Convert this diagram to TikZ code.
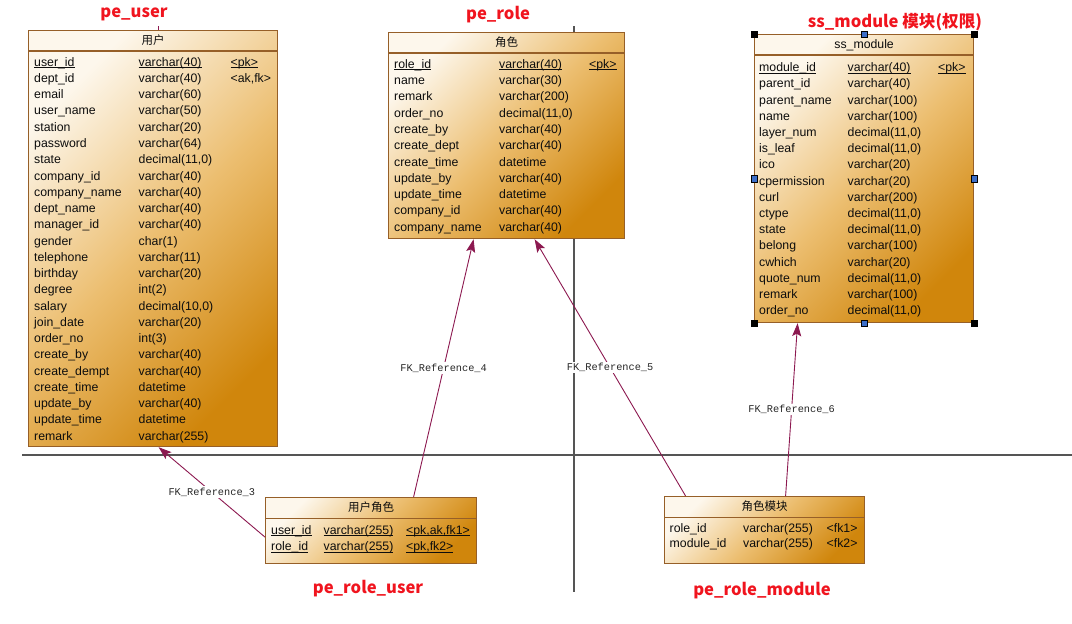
\documentclass[tikz,border=0pt]{standalone}
\usepackage{fontspec}
\setmainfont{Liberation Sans}
\newfontfamily\cjkfont{Noto Sans CJK SC}
\newfontfamily\fkmono{Liberation Mono}
\usetikzlibrary{arrows.meta,calc}
\definecolor{tblborder}{RGB}{150,95,40}
\definecolor{tbllight}{RGB}{253,247,236}
\definecolor{tblmid}{RGB}{236,190,112}
\definecolor{tbldark}{RGB}{208,134,12}
\definecolor{fkcol}{RGB}{140,25,80}
\definecolor{gridgray}{RGB}{85,85,85}
\definecolor{titlered}{RGB}{240,20,30}
\definecolor{handleblue}{RGB}{60,110,200}
\newcommand\pkul[1]{\setbox0\hbox{#1}\rlap{\rule[-1.9pt]{\wd0}{0.9pt}}\box0}
\begin{document}
\begin{tikzpicture}[x=1pt,y=-1pt,
  tbl/.style={draw=tblborder, line width=1.2pt, top color=tbllight, bottom color=tbldark, middle color=tblmid, shading angle=45, inner sep=0pt, anchor=north west},
  sepline/.style={draw=tblborder, line width=1.2pt},
  cell/.style={font=\fontsize{12.3}{14}\selectfont, text=black!95, anchor=west, inner sep=0pt, text height=9pt, text depth=2.6pt},
  hdr/.style={font=\fontsize{12.3}{14}\selectfont, text=black!95, inner sep=0pt},
  cjkhdr/.style={font=\cjkfont\fontsize{11.5}{13}\selectfont, text=black!95, inner sep=0pt},
  title/.style={font=\cjkfont\bfseries\fontsize{16.6}{18}\selectfont, text=titlered, anchor=base, inner sep=0pt},
  fk/.style={draw=fkcol, line width=0.9pt, -{Stealth[length=13pt,width=9pt,inset=2.5pt]}},
  fklabel/.style={font=\fkmono\fontsize{10.3}{12}\selectfont, fill=white, inner sep=1.5pt, text=black!85},
  gridline/.style={draw=gridgray, line width=1.2pt},
  handle/.style={draw=black, fill=black, minimum size=6.5pt, inner sep=0pt},
  midhandle/.style={draw=black, fill=handleblue, minimum size=6.5pt, inner sep=0pt}
]
\useasboundingbox (0,0) rectangle (1072,624);

% background guide lines
\coordinate (hl1) at (22,455);
\coordinate (hl2) at (1072,455);
\coordinate (vl1) at (574,26);
\coordinate (vl2) at (574,592);
\draw[gridline] (hl1) -- (hl2);
\draw[gridline] (vl1) -- (vl2);

% ---------------- pe_user ----------------
\node[tbl, minimum width=249pt, minimum height=416pt] (user) at (28,30) {};
\draw[sepline] ($(user.north west)+(0,21)$) -- ($(user.north east)+(0,21)$);
\node[cjkhdr] (user-h) at ($(user.north)+(0,10.5)$) {用户};
\node[title] (user-t) at (134,17) {pe\_user};
\node[cell] (u-n-1) at (34,63) {\pkul{user\_id}};
\node[cell] (u-t-1) at (138.5,63) {\pkul{varchar(40)}};
\node[cell] (u-k-1) at (230.5,63) {\pkul{<pk>}};
\node[cell] (u-k-2) at (230.5,79.26) {<ak,fk>};
\foreach \n/\t [count=\i from 2] in {dept\_id/varchar(40), email/varchar(60), user\_name/varchar(50), station/varchar(20), password/varchar(64), state/{decimal(11,0)}, company\_id/varchar(40), company\_name/varchar(40), dept\_name/varchar(40), manager\_id/varchar(40), gender/char(1), telephone/varchar(11), birthday/varchar(20), degree/int(2), salary/{decimal(10,0)}, join\_date/varchar(20), order\_no/int(3), create\_by/varchar(40), create\_dempt/varchar(40), create\_time/datetime, update\_by/varchar(40), update\_time/datetime, remark/varchar(255)}{
  \node[cell] (u-n-\i) at (34,{63+(\i-1)*16.26}) {\n};
  \node[cell] (u-t-\i) at (138.5,{63+(\i-1)*16.26}) {\t};
}

% ---------------- pe_role ----------------
\node[tbl, minimum width=236pt, minimum height=206pt] (role) at (388,32) {};
\draw[sepline] ($(role.north west)+(0,21)$) -- ($(role.north east)+(0,21)$);
\node[cjkhdr] (role-h) at ($(role.north)+(0,10.5)$) {角色};
\node[title] (role-t) at (498,19) {pe\_role};
\node[cell] (r-n-1) at (394,65) {\pkul{role\_id}};
\node[cell] (r-t-1) at (499,65) {\pkul{varchar(40)}};
\node[cell] (r-k-1) at (589,65) {\pkul{<pk>}};
\foreach \n/\t [count=\i from 2] in {name/varchar(30), remark/varchar(200), order\_no/{decimal(11,0)}, create\_by/varchar(40), create\_dept/varchar(40), create\_time/datetime, update\_by/varchar(40), update\_time/datetime, company\_id/varchar(40), company\_name/varchar(40)}{
  \node[cell] (r-n-\i) at (394,{65+(\i-1)*16.3}) {\n};
  \node[cell] (r-t-\i) at (499,{65+(\i-1)*16.3}) {\t};
}

% ---------------- ss_module ----------------
\node[tbl, minimum width=219pt, minimum height=288pt] (ssm) at (754,34) {};
\draw[sepline] ($(ssm.north west)+(0,21)$) -- ($(ssm.north east)+(0,21)$);
\node[hdr] (ssm-h) at ($(ssm.north)+(0,11.5)$) {ss\_module};
\node[title] (ssm-t) at (895,27) {ss\_module 模块(权限)};
\node[cell] (s-n-1) at (759,68.5) {\pkul{module\_id}};
\node[cell] (s-t-1) at (847.5,68.5) {\pkul{varchar(40)}};
\node[cell] (s-k-1) at (938,68.5) {\pkul{<pk>}};
\foreach \n/\t [count=\i from 2] in {parent\_id/varchar(40), parent\_name/varchar(100), name/varchar(100), layer\_num/{decimal(11,0)}, is\_leaf/{decimal(11,0)}, ico/varchar(20), cpermission/varchar(20), curl/varchar(200), ctype/{decimal(11,0)}, state/{decimal(11,0)}, belong/varchar(100), cwhich/varchar(20), quote\_num/{decimal(11,0)}, remark/varchar(100), order\_no/{decimal(11,0)}}{
  \node[cell] (s-n-\i) at (759,{68.5+(\i-1)*16.2}) {\n};
  \node[cell] (s-t-\i) at (847.5,{68.5+(\i-1)*16.2}) {\t};
}
% selection handles
\foreach \a [count=\i] in {north west, north east, south west, south east}{
  \node[handle] (hc-\i) at (ssm.\a) {};
}
\foreach \a [count=\i] in {north, south, west, east}{
  \node[midhandle] (hm-\i) at (ssm.\a) {};
}

% ---------------- pe_role_user ----------------
\node[tbl, minimum width=211pt, minimum height=66pt] (pru) at (265,497) {};
\draw[sepline] ($(pru.north west)+(0,21.5)$) -- ($(pru.north east)+(0,21.5)$);
\node[cjkhdr] (pru-h) at ($(pru.north)+(0,10.5)$) {用户角色};
\node[title] (pru-t) at (368,593) {pe\_role\_user};
\node[cell] (p-n-1) at (271,531) {\pkul{user\_id}};
\node[cell] (p-t-1) at (323.5,531) {\pkul{varchar(255)}};
\node[cell] (p-k-1) at (406,531) {\pkul{<pk,ak,fk1>}};
\node[cell] (p-n-2) at (271,547.5) {\pkul{role\_id}};
\node[cell] (p-t-2) at (323.5,547.5) {\pkul{varchar(255)}};
\node[cell] (p-k-2) at (406,547.5) {\pkul{<pk,fk2>}};

% ---------------- pe_role_module ----------------
\node[tbl, minimum width=200pt, minimum height=67pt] (prm) at (664,496) {};
\draw[sepline] ($(prm.north west)+(0,21.5)$) -- ($(prm.north east)+(0,21.5)$);
\node[cjkhdr] (prm-h) at ($(prm.north)+(0,10.5)$) {角色模块};
\node[title] (prm-t) at (762,595) {pe\_role\_module};
\node[cell] (m-n-1) at (669.5,529) {role\_id};
\node[cell] (m-t-1) at (743,529) {varchar(255)};
\node[cell] (m-k-1) at (826.5,529) {<fk1>};
\node[cell] (m-n-2) at (669.5,544.5) {module\_id};
\node[cell] (m-t-2) at (743,544.5) {varchar(255)};
\node[cell] (m-k-2) at (826.5,544.5) {<fk2>};

% ---------------- references ----------------
\coordinate (utick) at ([xshift=5.5pt,yshift=4pt]user.north);
\draw[draw=fkcol, line width=0.9pt] (utick) -- ([xshift=5.5pt]user.north);
\draw[fk] ([yshift=-6.5pt]pru.west) -- node[fklabel] (fk3) {FK\_Reference\_3} ([xshift=5.5pt]user.south);
\draw[fk] ([xshift=42.5pt]pru.north) -- node[fklabel] (fk4) {FK\_Reference\_4} ([xshift=-33pt]role.south);
\draw[fk] ([xshift=-79pt]prm.north) -- node[fklabel] (fk5) {FK\_Reference\_5} ([xshift=28pt]role.south);
\draw[fk] ([xshift=21pt]prm.north) -- node[fklabel] (fk6) {FK\_Reference\_6} ([xshift=-66.5pt]ssm.south);
\end{tikzpicture}
\end{document}
